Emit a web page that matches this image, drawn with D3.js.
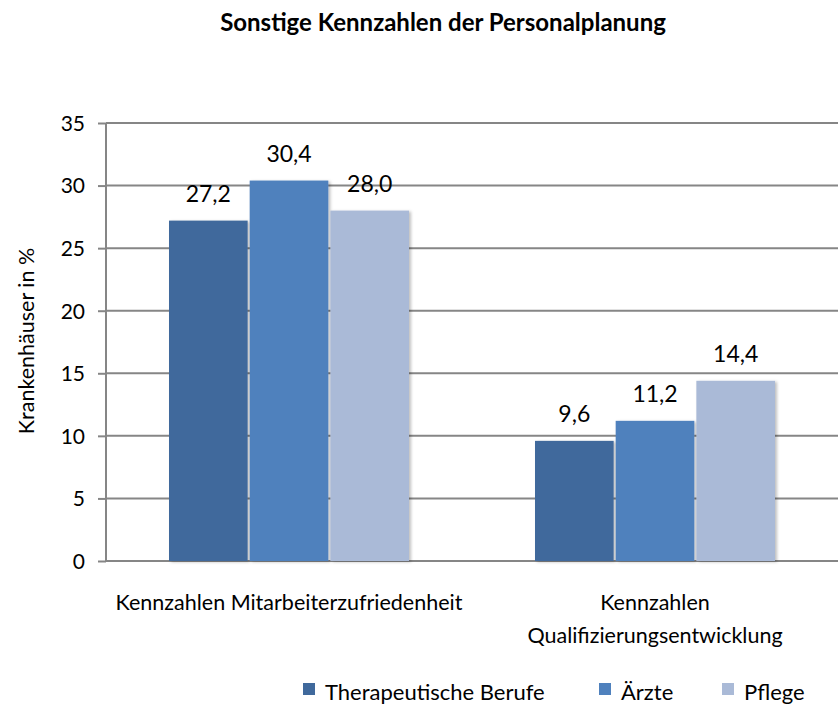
<!DOCTYPE html>
<html>
<head>
<meta charset="utf-8">
<script src="https://cdn.jsdelivr.net/npm/d3@7"></script>
<style>
  body { margin: 0; background: #fff; }
  text { font-family: Lato, "Open Sans", sans-serif; fill: #000; }
</style>
</head>
<body>
<div id="chart"></div>
<script>
// chart data
var categories = [["Kennzahlen Mitarbeiterzufriedenheit"], ["Kennzahlen", "Qualifizierungsentwicklung"]];
var seriesNames = ["Therapeutische Berufe", "Ärzte", "Pflege"];
var therapeuten = [27.2, 9.6];
var aerzte = [30.4, 11.2];
var pflege = [28.0, 14.4];
var yTicks = [0, 5, 10, 15, 20, 25, 30, 35];
var colors = ["#40699c", "#4f81bd", "#aabad7"];

var width = 838, height = 704;
var margin = { top: 123, right: 0, bottom: 143, left: 106 };

var svg = d3.select("#chart").append("svg")
    .attr("width", width)
    .attr("height", height);

// soft shadow like the office chart
var filter = svg.append("defs").append("filter")
    .attr("id", "shadow")
    .attr("x", "-10%").attr("y", "-10%")
    .attr("width", "130%").attr("height", "130%");
filter.append("feDropShadow")
    .attr("dx", 2).attr("dy", 1)
    .attr("stdDeviation", 1.5)
    .attr("flood-color", "#000")
    .attr("flood-opacity", 0.25);

var series = [therapeuten, aerzte, pflege];
var idx = d3.range(categories.length);

var x0 = d3.scaleBand()
    .domain(idx)
    .range([margin.left, width - margin.right])
    .paddingInner(0)
    .paddingOuter(0);

var groupPad = 63;
var x1 = d3.scaleBand()
    .domain(d3.range(seriesNames.length))
    .range([0, x0.bandwidth() - 2 * groupPad])
    .paddingInner(0.025);

var y = d3.scaleLinear()
    .domain([0, 35])
    .range([height - margin.bottom, margin.top]);

// title
svg.append("text")
    .attr("x", 443)
    .attr("y", 31)
    .attr("text-anchor", "middle")
    .style("font-weight", "bold")
    .style("font-size", "24px")
    .text("Sonstige Kennzahlen der Personalplanung");

// gridlines + y axis
var yAxis = svg.append("g")
    .attr("transform", "translate(" + margin.left + ",0)")
    .call(d3.axisLeft(y).tickValues(yTicks).tickSize(8).tickPadding(13));
yAxis.select(".domain").remove();
yAxis.selectAll(".tick line").attr("stroke", "#868686").attr("stroke-width", 2);
yAxis.selectAll(".tick text").style("font-size", "21px").attr("dy", "0.35em");

svg.append("g")
    .selectAll("line")
    .data(yTicks)
    .enter().append("line")
    .attr("x1", margin.left)
    .attr("x2", width - margin.right)
    .attr("y1", d => y(d))
    .attr("y2", d => y(d))
    .attr("stroke", "#868686")
    .attr("stroke-width", 2);

svg.append("line")
    .attr("x1", margin.left)
    .attr("x2", margin.left)
    .attr("y1", y(35))
    .attr("y2", y(0))
    .attr("stroke", "#868686")
    .attr("stroke-width", 2);

// bars
var groups = svg.append("g")
    .selectAll("g")
    .data(idx)
    .enter().append("g")
    .attr("transform", i => "translate(" + (x0(i) + groupPad) + ",0)");

groups.selectAll("rect")
    .data(i => series.map((s, k) => ({ k: k, v: s[i] })))
    .enter().append("rect")
    .attr("x", d => x1(d.k))
    .attr("width", x1.bandwidth())
    .attr("y", d => y(d.v))
    .attr("height", d => y(0) - y(d.v))
    .attr("fill", d => colors[d.k])
    .attr("filter", "url(#shadow)");

groups.selectAll("text.value")
    .data(i => series.map((s, k) => ({ k: k, v: s[i] })))
    .enter().append("text")
    .attr("class", "value")
    .attr("x", d => x1(d.k) + x1.bandwidth() / 2)
    .attr("y", d => y(d.v) - 19)
    .attr("text-anchor", "middle")
    .style("font-size", "23px")
    .text(d => d.v.toFixed(1).replace(".", ","));

// category labels
svg.append("g")
    .selectAll("text")
    .data(idx)
    .enter().append("text")
    .attr("text-anchor", "middle")
    .style("font-size", "21.5px")
    .each(function (i) {
        var t = d3.select(this);
        categories[i].forEach((l, j) => {
            t.append("tspan")
                .attr("x", x0(i) + x0.bandwidth() / 2)
                .attr("y", 610 + j * 33)
                .text(l);
        });
    });

// y axis title
svg.append("text")
    .attr("transform", "translate(34,341) rotate(-90)")
    .attr("text-anchor", "middle")
    .style("font-size", "21.5px")
    .text("Krankenhäuser in %");

// legend
var legendX = [303, 599, 722];
var legend = svg.append("g")
    .selectAll("g")
    .data(seriesNames)
    .enter().append("g")
    .attr("transform", (d, i) => "translate(" + legendX[i] + ",683)");
legend.append("rect")
    .attr("width", 12)
    .attr("height", 12)
    .attr("fill", (d, i) => colors[i]);
legend.append("text")
    .attr("x", 22)
    .attr("y", 17)
    .style("font-size", "22px")
    .text(d => d);
</script>
</body>
</html>
